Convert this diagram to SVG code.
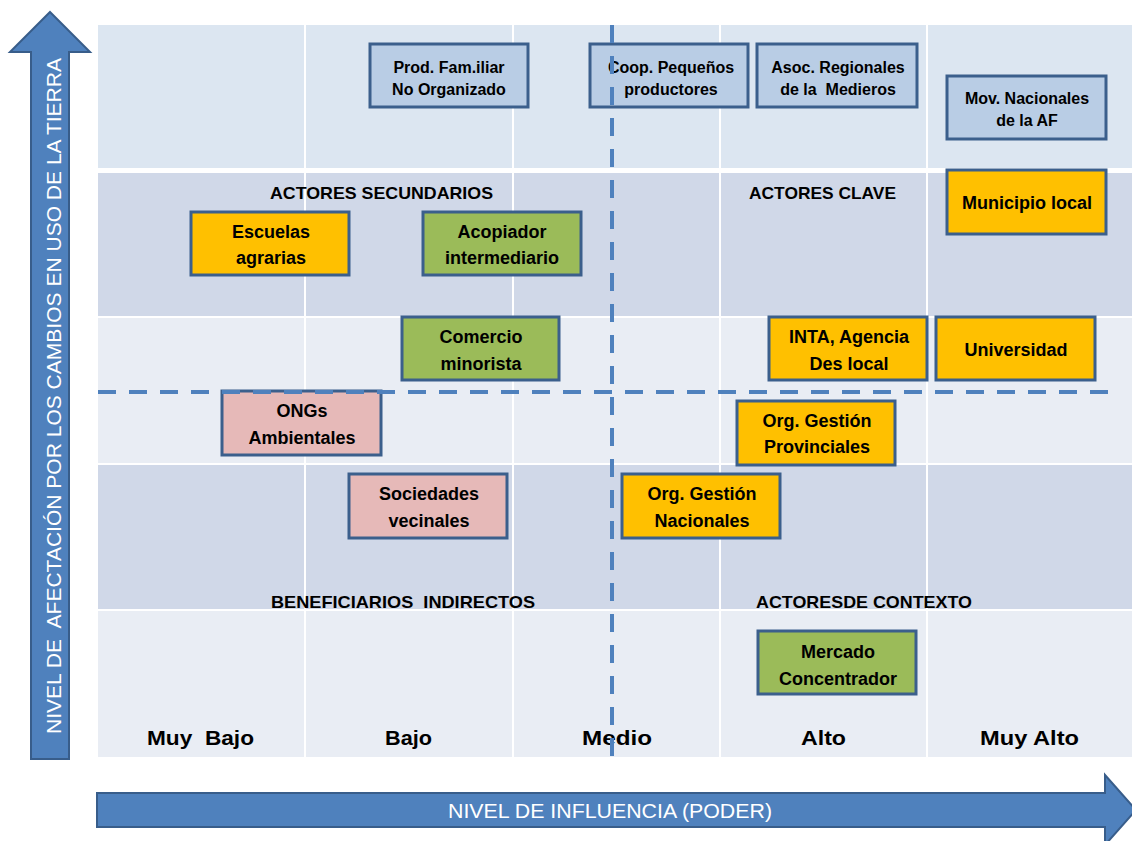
<svg xmlns="http://www.w3.org/2000/svg" width="1132" height="841" viewBox="0 0 1132 841">
<style>
.rowA{fill:#DCE6F1}
.rowB{fill:#D0D8E8}
.rowC{fill:#E9EDF4}
.sep{stroke:#FFFFFF;stroke-width:2}
.box{stroke:#3B5F8C;stroke-width:3}
.blue{fill:#B9CDE5}
.yel{fill:#FFC000}
.grn{fill:#9BBB59}
.pnk{fill:#E6B9B8}
.t{font-family:"Liberation Sans",Arial,sans-serif;font-weight:bold;fill:#000;text-anchor:middle}
.s{font-size:16px}
.m{font-size:18px}
.sec{font-family:"Liberation Sans",Arial,sans-serif;font-weight:bold;font-size:17px;fill:#000}
.ax{font-family:"Liberation Sans",Arial,sans-serif;font-weight:bold;font-size:21px;fill:#000}
.arr{fill:#4F81BD;stroke:#385D8A;stroke-width:2}
.at{font-family:"Liberation Sans",Arial,sans-serif;font-size:21px;fill:#FFFFFF;text-anchor:middle}
.dash{stroke:#4F81BD;stroke-width:4;stroke-dasharray:18 13;fill:none}
</style>
<rect width="1132" height="841" fill="#FFFFFF"/>
<g id="grid">
<rect class="rowA" x="98" y="25" width="1034" height="143"/>
<rect class="rowB" x="98" y="173" width="1034" height="143"/>
<rect class="rowC" x="98" y="318" width="1034" height="145"/>
<rect class="rowB" x="98" y="465" width="1034" height="144"/>
<rect class="rowC" x="98" y="611" width="1034" height="146"/>
<line class="sep" x1="305" y1="25" x2="305" y2="757"/>
<line class="sep" x1="513" y1="25" x2="513" y2="757"/>
<line class="sep" x1="720" y1="25" x2="720" y2="757"/>
<line class="sep" x1="927" y1="25" x2="927" y2="757"/>
</g>
<g id="axis-y">
<path class="arr" d="M50,12 L90,52 L69,52 L69,759 L31,759 L31,52 L10,52 Z"/>
<text class="at" font-size="22" transform="translate(61,396) rotate(-90)" textLength="676" lengthAdjust="spacingAndGlyphs" xml:space="preserve">NIVEL DE  AFECTACIÓN POR LOS CAMBIOS EN USO DE LA TIERRA</text>
</g>
<g id="axis-x">
<path class="arr" d="M97,793 L1105,793 L1105,775 L1136,810 L1105,845 L1105,827 L97,827 Z"/>
<text class="at" x="610" y="818" textLength="324" lengthAdjust="spacingAndGlyphs">NIVEL DE INFLUENCIA (PODER)</text>
</g>
<g id="labels">
<text class="sec" x="270" y="199" textLength="223" lengthAdjust="spacingAndGlyphs">ACTORES SECUNDARIOS</text>
<text class="sec" x="749" y="199" textLength="147" lengthAdjust="spacingAndGlyphs">ACTORES CLAVE</text>
<text class="sec" x="271" y="608" textLength="264" lengthAdjust="spacingAndGlyphs" xml:space="preserve">BENEFICIARIOS  INDIRECTOS</text>
<text class="sec" x="756" y="608" textLength="216" lengthAdjust="spacingAndGlyphs">ACTORESDE CONTEXTO</text>
<text class="ax" x="147" y="745" textLength="107" lengthAdjust="spacingAndGlyphs" xml:space="preserve">Muy  Bajo</text>
<text class="ax" x="385" y="745" textLength="47" lengthAdjust="spacingAndGlyphs">Bajo</text>
<text class="ax" x="582" y="745" textLength="70" lengthAdjust="spacingAndGlyphs">Medio</text>
<text class="ax" x="801" y="745" textLength="45" lengthAdjust="spacingAndGlyphs">Alto</text>
<text class="ax" x="980" y="745" textLength="99" lengthAdjust="spacingAndGlyphs">Muy Alto</text>
</g>
<g id="n-prod"><rect class="box blue" x="370" y="44" width="158" height="63"/><text class="t s" x="449" y="73">Prod. Fam.iliar</text><text class="t s" x="449" y="95">No Organizado</text></g>
<g id="n-coop"><rect class="box blue" x="590" y="44" width="158" height="63"/><text class="t s" x="671" y="73">Coop. Pequeños</text><text class="t s" x="671" y="95">productores</text></g>
<g id="n-asoc"><rect class="box blue" x="757" y="44" width="160" height="63"/><text class="t s" x="838" y="73">Asoc. Regionales</text><text class="t s" x="838" y="95" xml:space="preserve">de la  Medieros</text></g>
<g id="n-mov"><rect class="box blue" x="947" y="76" width="159" height="63"/><text class="t s" x="1027" y="104">Mov. Nacionales</text><text class="t s" x="1027" y="126">de la AF</text></g>
<g id="n-municipio"><rect class="box yel" x="947" y="170" width="159" height="64"/><text class="t m" x="1027" y="209">Municipio local</text></g>
<g id="n-escuelas"><rect class="box yel" x="191" y="212" width="158" height="63"/><text class="t m" x="271" y="238">Escuelas</text><text class="t m" x="271" y="264">agrarias</text></g>
<g id="n-acopiador"><rect class="box grn" x="423" y="212" width="158" height="63"/><text class="t m" x="502" y="238">Acopiador</text><text class="t m" x="502" y="264">intermediario</text></g>
<g id="n-comercio"><rect class="box grn" x="402" y="317" width="157" height="63"/><text class="t m" x="481" y="343">Comercio</text><text class="t m" x="481" y="370">minorista</text></g>
<g id="n-inta"><rect class="box yel" x="769" y="317" width="158" height="63"/><text class="t m" x="849" y="343">INTA, Agencia</text><text class="t m" x="849" y="370">Des local</text></g>
<g id="n-universidad"><rect class="box yel" x="936" y="317" width="159" height="63"/><text class="t m" x="1016" y="356">Universidad</text></g>
<g id="n-ongs"><rect class="box pnk" x="222" y="391" width="159" height="64"/><text class="t m" x="302" y="417">ONGs</text><text class="t m" x="302" y="444">Ambientales</text></g>
<g id="n-orgprov"><rect class="box yel" x="737" y="401" width="158" height="64"/><text class="t m" x="817" y="427">Org. Gestión</text><text class="t m" x="817" y="453">Provinciales</text></g>
<g id="n-sociedades"><rect class="box pnk" x="349" y="474" width="158" height="64"/><text class="t m" x="429" y="500">Sociedades</text><text class="t m" x="429" y="527">vecinales</text></g>
<g id="n-orgnac"><rect class="box yel" x="622" y="474" width="158" height="64"/><text class="t m" x="702" y="500" font-size="19">Org. Gestión</text><text class="t m" x="702" y="527" font-size="19">Nacionales</text></g>
<g id="n-mercado"><rect class="box grn" x="758" y="631" width="158" height="63"/><text class="t m" x="838" y="658">Mercado</text><text class="t m" x="838" y="685">Concentrador</text></g>
<g id="connectors">
<line class="dash" x1="98" y1="392" x2="1120" y2="392"/>
<line class="dash" x1="612" y1="25" x2="612" y2="757"/>
</g>
</svg>
